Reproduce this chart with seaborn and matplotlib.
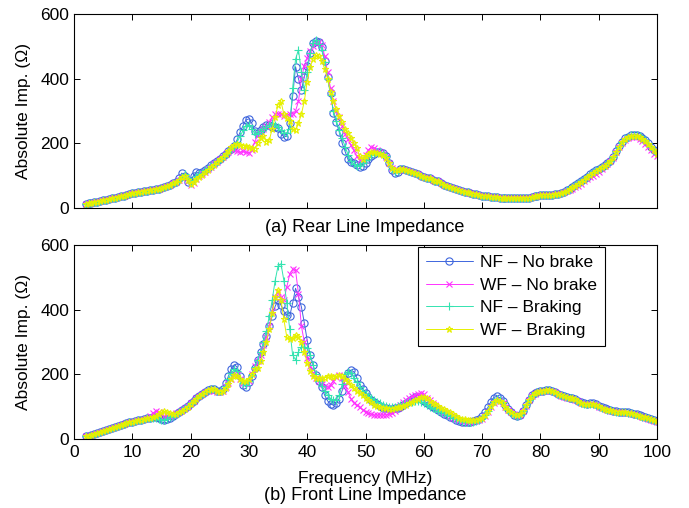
import numpy as np
import matplotlib
matplotlib.use("Agg")
import matplotlib.pyplot as plt
import seaborn as sns

# frequency grid (MHz), 0.5 MHz steps from 2 to 100
freq = np.arange(2.0, 100.001, 0.5)

labels = ["NF – No brake", "WF – No brake", "NF – Braking", "WF – Braking"]

# ---------------- (a) Rear line impedance ----------------
rear_nf_nobrake = [
    12, 14, 16, 18, 20, 22, 24, 26, 28, 30,
    32, 34, 36, 38, 40, 42, 45, 47, 49, 51,
    52, 54, 55, 57, 58, 60, 62, 65, 68, 72,
    76, 80, 92, 108, 100, 80, 84, 100, 110, 108,
    110, 118, 125, 132, 138, 145, 152, 160, 168, 176,
    184, 192, 212, 235, 255, 272, 276, 262, 238, 232,
    240, 250, 257, 258, 252, 250, 246, 230, 220, 222,
    262, 345, 437, 400, 365, 405, 440, 480, 510, 518,
    512, 498, 455, 405, 355, 295, 265, 235, 200, 175,
    150, 142, 138, 132, 128, 130, 140, 150, 160, 168,
    172, 172, 170, 160, 140, 118, 108, 112, 122, 122,
    118, 115, 112, 108, 104, 100, 97, 94, 92, 88,
    85, 82, 78, 72, 68, 65, 62, 58, 55, 52,
    50, 48, 46, 44, 42, 40, 38, 37, 36, 35,
    34, 33, 32, 31, 31, 30, 30, 30, 30, 30,
    30, 31, 32, 34, 36, 38, 40, 41, 41, 41,
    41, 42, 43, 46, 50, 55, 60, 65, 70, 76,
    82, 90, 97, 104, 110, 116, 122, 127, 132, 138,
    146, 158, 176, 192, 205, 215, 221, 225, 226, 226,
    222, 216, 210, 200, 190, 180, 172,
]
rear_wf_nobrake = [
    12, 14, 16, 18, 20, 22, 24, 26, 28, 30,
    32, 34, 36, 38, 40, 42, 45, 47, 49, 51,
    52, 54, 55, 57, 58, 60, 62, 65, 68, 72,
    76, 80, 86, 92, 95, 85, 72, 78, 90, 98,
    104, 112, 120, 128, 135, 142, 150, 158, 166, 174,
    182, 180, 175, 172, 175, 172, 170, 180, 205, 225,
    235, 245, 255, 265, 280, 290, 292, 290, 285, 288,
    290, 292, 300, 330, 400, 440, 465, 485, 500, 510,
    514, 505, 470, 420, 370, 330, 300, 280, 255, 230,
    212, 195, 178, 160, 148, 150, 165, 180, 188, 185,
    178, 172, 168, 158, 140, 125, 118, 116, 118, 120,
    118, 115, 112, 108, 104, 100, 97, 94, 92, 88,
    85, 82, 78, 72, 68, 65, 62, 58, 55, 52,
    50, 48, 46, 44, 42, 40, 38, 37, 36, 35,
    34, 33, 32, 31, 31, 30, 30, 30, 30, 30,
    30, 31, 32, 34, 36, 38, 40, 41, 41, 41,
    41, 42, 43, 45, 48, 52, 56, 60, 64, 68,
    74, 82, 90, 96, 100, 104, 112, 122, 130, 136,
    144, 156, 172, 188, 200, 210, 216, 220, 221, 220,
    214, 206, 198, 188, 178, 168, 160,
]
rear_nf_braking = [
    12, 14, 16, 18, 20, 22, 24, 26, 28, 30,
    32, 34, 36, 38, 40, 42, 45, 47, 49, 51,
    52, 54, 55, 57, 58, 60, 62, 65, 68, 72,
    76, 81, 88, 97, 104, 92, 78, 86, 98, 105,
    108, 116, 123, 130, 136, 143, 150, 158, 166, 174,
    185, 190, 205, 222, 240, 255, 258, 245, 230, 232,
    238, 245, 252, 258, 262, 258, 250, 240, 232, 232,
    245, 370, 460, 490, 420, 365, 420, 480, 510, 520,
    508, 490, 450, 400, 350, 300, 270, 240, 215, 190,
    165, 145, 135, 130, 132, 138, 148, 158, 165, 170,
    172, 172, 168, 160, 142, 122, 112, 114, 120, 120,
    118, 115, 112, 108, 104, 100, 97, 94, 92, 88,
    85, 82, 78, 72, 68, 65, 62, 58, 55, 52,
    50, 48, 46, 44, 42, 40, 38, 37, 36, 35,
    34, 33, 32, 31, 31, 30, 30, 30, 30, 30,
    30, 31, 32, 34, 36, 38, 40, 41, 41, 41,
    41, 42, 43, 46, 50, 55, 60, 65, 70, 76,
    82, 90, 97, 104, 110, 116, 122, 127, 132, 138,
    146, 158, 176, 192, 205, 215, 221, 225, 226, 226,
    222, 216, 210, 200, 190, 178, 168,
]
rear_wf_braking = [
    12, 14, 16, 18, 20, 22, 24, 26, 28, 30,
    32, 34, 36, 38, 40, 42, 45, 47, 49, 51,
    52, 54, 55, 57, 58, 60, 62, 65, 68, 72,
    76, 80, 88, 96, 100, 88, 75, 80, 90, 96,
    102, 110, 118, 126, 134, 142, 150, 158, 166, 175,
    188, 195, 198, 196, 193, 192, 190, 186, 184, 200,
    215, 222, 205, 210, 245, 280, 320, 330, 290, 278,
    270, 245, 240, 262, 290, 330, 390, 437, 460, 472,
    470, 455, 430, 400, 360, 330, 305, 285, 265, 245,
    232, 218, 200, 185, 160, 150, 160, 168, 172, 172,
    170, 168, 165, 155, 138, 125, 118, 118, 120, 120,
    118, 115, 112, 108, 104, 100, 97, 94, 92, 88,
    85, 82, 78, 72, 68, 65, 62, 58, 55, 52,
    50, 48, 46, 44, 42, 40, 38, 37, 36, 35,
    34, 33, 32, 31, 31, 30, 30, 30, 30, 30,
    30, 31, 32, 34, 36, 38, 40, 41, 41, 41,
    41, 42, 43, 46, 49, 54, 59, 64, 69, 75,
    80, 88, 95, 102, 108, 114, 120, 126, 131, 137,
    145, 157, 174, 190, 203, 213, 219, 223, 224, 224,
    220, 214, 207, 198, 188, 178, 168,
]

# ---------------- (b) Front line impedance ----------------
front_nf_nobrake = [
    8, 10, 13, 16, 19, 22, 25, 28, 31, 34,
    37, 40, 43, 46, 49, 52, 54, 56, 58, 60,
    62, 64, 66, 68, 68, 66, 62, 60, 62, 66,
    72, 78, 84, 90, 96, 102, 110, 118, 126, 134,
    140, 146, 152, 155, 154, 150, 148, 155, 172, 195,
    218, 230, 222, 195, 168, 162, 175, 195, 220, 245,
    268, 295, 320, 350, 380, 410, 430, 414, 395, 384,
    380, 420, 466, 440, 409, 360, 305, 260, 229, 198,
    180, 160, 135, 118, 108, 105, 110, 125, 150, 182,
    205, 213, 208, 190, 168, 155, 142, 130, 122, 114,
    108, 102, 97, 95, 94, 94, 95, 97, 100, 105,
    110, 118, 125, 130, 128, 124, 118, 112, 106, 100,
    95, 90, 84, 78, 73, 68, 64, 60, 56, 54,
    53, 53, 54, 56, 58, 62, 70, 82, 98, 115,
    128, 132, 128, 118, 104, 92, 82, 75, 72, 75,
    88, 105, 122, 135, 142, 146, 148, 150, 152, 152,
    150, 146, 140, 136, 133, 130, 128, 127, 124, 118,
    113, 110, 109, 110, 110, 107, 102, 98, 95, 92,
    90, 88, 86, 85, 84, 83, 82, 80, 78, 76,
    73, 70, 68, 65, 62, 59, 56,
]
front_wf_nobrake = [
    8, 10, 13, 16, 19, 22, 25, 28, 31, 34,
    37, 40, 43, 46, 49, 52, 54, 56, 58, 60,
    62, 65, 70, 80, 86, 84, 76, 70, 70, 72,
    75, 80, 85, 90, 96, 102, 110, 118, 126, 134,
    140, 146, 150, 152, 150, 146, 145, 150, 160, 172,
    185, 200, 198, 185, 172, 172, 180, 200, 225, 240,
    260, 290, 315, 350, 395, 440, 455, 440, 430, 470,
    510, 525, 522, 450, 350, 300, 250, 225, 205, 190,
    180, 170, 163, 162, 168, 180, 192, 198, 190, 165,
    145, 125, 112, 104, 98, 90, 84, 80, 77, 74,
    74, 74, 74, 75, 76, 80, 86, 95, 105, 115,
    122, 128, 132, 136, 140, 142, 138, 128, 120, 112,
    104, 96, 90, 84, 78, 72, 66, 62, 58, 56,
    55, 54, 54, 55, 56, 58, 62, 70, 84, 98,
    110, 118, 116, 110, 100, 90, 82, 76, 72, 74,
    86, 103, 120, 133, 140, 144, 146, 148, 150, 150,
    148, 144, 138, 134, 131, 128, 126, 125, 122, 116,
    111, 108, 107, 108, 108, 105, 100, 96, 93, 90,
    88, 86, 84, 83, 82, 81, 80, 78, 76, 74,
    71, 68, 66, 63, 60, 57, 54,
]
front_nf_braking = [
    8, 10, 13, 16, 19, 22, 25, 28, 31, 34,
    37, 40, 43, 46, 49, 52, 54, 56, 58, 60,
    62, 64, 66, 66, 64, 62, 60, 60, 63, 67,
    72, 78, 84, 90, 96, 102, 110, 118, 126, 134,
    140, 146, 152, 155, 155, 150, 148, 153, 165, 185,
    205, 215, 210, 190, 172, 168, 178, 198, 222, 245,
    270, 300, 335, 380, 430, 490, 535, 542, 490, 420,
    340, 260, 245, 270, 285, 285, 280, 260, 230, 200,
    180, 165, 150, 135, 125, 120, 122, 135, 170, 200,
    208, 205, 190, 175, 160, 150, 140, 132, 126, 120,
    115, 110, 106, 103, 100, 100, 100, 102, 104, 107,
    110, 113, 115, 116, 116, 114, 110, 105, 100, 96,
    92, 88, 84, 79, 75, 70, 66, 62, 59, 56,
    54, 53, 53, 54, 56, 59, 64, 74, 88, 104,
    118, 124, 122, 114, 102, 90, 81, 75, 72, 74,
    86, 104, 121, 134, 141, 145, 147, 149, 151, 151,
    149, 145, 139, 135, 132, 129, 127, 126, 123, 117,
    112, 109, 108, 109, 109, 106, 101, 97, 94, 91,
    89, 87, 85, 84, 83, 82, 81, 79, 77, 75,
    72, 69, 67, 64, 61, 58, 55,
]
front_wf_braking = [
    8, 10, 13, 16, 19, 22, 25, 28, 31, 34,
    37, 40, 43, 46, 49, 52, 54, 56, 58, 60,
    62, 64, 66, 68, 72, 78, 82, 86, 84, 80,
    76, 78, 82, 88, 94, 100, 108, 116, 124, 132,
    138, 146, 152, 156, 156, 150, 146, 150, 158, 170,
    185, 198, 195, 185, 178, 178, 185, 200, 215, 220,
    240, 270, 300, 340, 390, 440, 462, 430, 370, 315,
    308, 312, 322, 315, 300, 270, 235, 210, 196, 190,
    188, 188, 190, 194, 195, 192, 194, 198, 195, 186,
    178, 168, 158, 150, 142, 135, 128, 120, 113, 106,
    102, 99, 97, 95, 94, 94, 96, 98, 100, 103,
    106, 110, 115, 120, 125, 129, 131, 126, 118, 112,
    108, 102, 96, 92, 88, 82, 76, 70, 66, 62,
    62, 60, 58, 58, 59, 61, 66, 75, 88, 102,
    114, 120, 118, 110, 100, 90, 82, 76, 73, 76,
    87, 104, 121, 134, 141, 145, 147, 149, 151, 151,
    149, 145, 139, 135, 132, 129, 127, 126, 123, 117,
    112, 109, 108, 109, 109, 106, 101, 97, 94, 91,
    89, 87, 85, 84, 83, 82, 81, 79, 77, 75,
    72, 69, 67, 64, 61, 58, 55,
]

rear = [rear_nf_nobrake, rear_wf_nobrake, rear_nf_braking, rear_wf_braking]
front = [front_nf_nobrake, front_wf_nobrake, front_nf_braking, front_wf_braking]

colors = ["#3f66dd", "#ff33ff", "#33e3b0", "#e6f000"]
markers = ["o", "x", "+", "*"]
msizes = [5.2, 4.0, 6.0, 5.0]

FS = 12.5

sns.set_theme(style="ticks")
plt.rcParams["font.family"] = ["Liberation Sans", "DejaVu Sans"]
plt.rcParams["axes.linewidth"] = 0.8
plt.rcParams["text.color"] = "black"
plt.rcParams["axes.labelcolor"] = "black"
plt.rcParams["xtick.color"] = "black"
plt.rcParams["ytick.color"] = "black"

fig = plt.figure(figsize=(6.89, 5.08), dpi=100)
ax1 = fig.add_axes([74 / 689, 1 - 208 / 508, 583 / 689, 194 / 508])
ax2 = fig.add_axes([74 / 689, 1 - 439 / 508, 583 / 689, 194 / 508])

for ax, data in ((ax1, rear), (ax2, front)):
    for vals, lab, c, m, s in zip(data, labels, colors, markers, msizes):
        assert len(vals) == len(freq)
        sns.lineplot(
            x=freq, y=vals, ax=ax, color=c, linewidth=0.7,
            marker=m, markersize=s, markeredgecolor=c,
            markerfacecolor="none", markeredgewidth=0.8,
            label=lab, errorbar=None,
        )
    ax.set_xlim(0, 100)
    ax.set_ylim(0, 600)
    ax.set_xticks(range(0, 101, 10))
    ax.set_yticks([0, 200, 400, 600])
    ax.tick_params(direction="in", top=True, right=True, length=4,
                   width=0.7, labelsize=FS, colors="black")
    ax.tick_params(axis="y", pad=3.5)
    ax.tick_params(axis="x", pad=4.5)
    ax.set_ylabel("Absolute Imp. (Ω)", fontsize=FS, labelpad=7,
                  color="black")
    for sp in ax.spines.values():
        sp.set_visible(True)
        sp.set_color("black")

ax1.set_xlabel("")
ax1.set_xticklabels([])
if ax1.get_legend() is not None:
    ax1.get_legend().remove()

ax2.set_xlabel("Frequency (MHz)", fontsize=FS, labelpad=8, color="black")
leg = ax2.legend(loc="upper right", bbox_to_anchor=(0.910, 0.99),
                 frameon=True, fancybox=False, edgecolor="black",
                 framealpha=1, fontsize=FS, handlelength=2.7,
                 labelspacing=0.44, borderpad=0.45, handletextpad=0.4,
                 borderaxespad=0, numpoints=1)
leg.get_frame().set_linewidth(0.8)
for t in leg.get_texts():
    t.set_color("black")

fig.text(365 / 689, 1 - 228 / 508, "(a) Rear Line Impedance",
         ha="center", va="center", fontsize=13, color="black")
fig.text(365 / 689, 1 - 495 / 508, "(b) Front Line Impedance",
         ha="center", va="center", fontsize=13, color="black")

fig.savefig("out.png", dpi=100)
